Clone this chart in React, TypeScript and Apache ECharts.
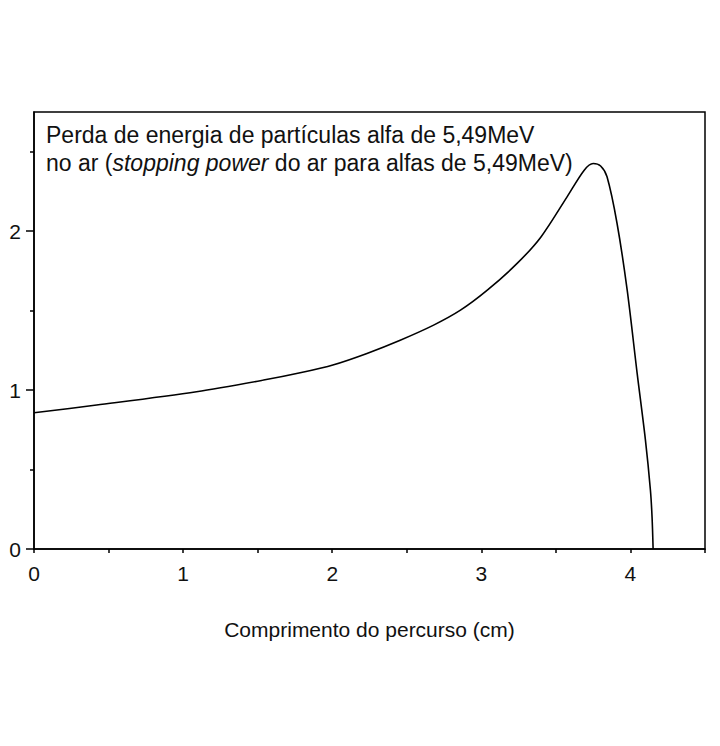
import React, { useEffect, useRef } from "react";
import * as echarts from "echarts";

const pathX = [0, 0.42, 1.09, 1.54, 1.785, 2.01, 2.233, 2.456, 2.68, 2.86, 3.04, 3.24, 3.40, 3.575, 3.69, 3.75, 3.80, 3.843, 3.91, 3.978, 4.045, 4.10, 4.134, 4.145, 4.152];
const stopPower = [0.857, 0.906, 0.99, 1.063, 1.109, 1.16, 1.231, 1.314, 1.409, 1.503, 1.629, 1.797, 1.964, 2.216, 2.384, 2.426, 2.41, 2.342, 2.05, 1.63, 1.105, 0.69, 0.37, 0.2, 0];
const xMajorLabels = [0, 1, 2, 3, 4];
const yMajorTicks = [0, 1, 2];
const yMinorTicks = [0.5, 1.5, 2.5];

const FONT = "'Liberation Sans', Arial, sans-serif";

export default function App() {
  const ref = useRef<HTMLDivElement>(null);
  useEffect(() => {
    if (!ref.current) return;
    const chart = echarts.init(ref.current, null, { renderer: "svg" });
    chart.setOption({
      animation: false,
      backgroundColor: "#fff",
      grid: {
        left: 34, top: 112, right: 15, bottom: 197,
        show: true, borderColor: "#000", borderWidth: 1.5, backgroundColor: "transparent",
      },
      xAxis: {
        type: "value", min: 0, max: 4.5, interval: 0.5,
        name: "Comprimento do percurso (cm)", nameLocation: "middle", nameGap: 70,
        nameTextStyle: { fontFamily: FONT, fontSize: 21, color: "#111" },
        axisLine: { show: true, onZero: false, lineStyle: { color: "#000", width: 1.5 } },
        axisTick: { show: true, length: 4, lineStyle: { color: "#000", width: 1.5 } },
        axisLabel: {
          fontFamily: FONT, fontSize: 21, color: "#111", margin: 14,
          formatter: (v: number) => (xMajorLabels.includes(v) ? String(v) : ""),
        },
        splitLine: { show: false },
      },
      yAxis: [
        {
          type: "value", min: 0, max: 2.75,
          axisLine: { show: true, onZero: false, lineStyle: { color: "#000", width: 1.5 } },
          axisTick: { show: true, length: 8, customValues: yMajorTicks, lineStyle: { color: "#000", width: 1.5 } },
          axisLabel: { fontFamily: FONT, fontSize: 21, color: "#111", margin: 13, customValues: yMajorTicks },
          splitLine: { show: false },
        },
        {
          type: "value", min: 0, max: 2.75, position: "left",
          axisLine: { show: false },
          axisTick: { show: true, length: 4, customValues: yMinorTicks, lineStyle: { color: "#000", width: 1.5 } },
          axisLabel: { show: false },
          splitLine: { show: false },
        },
      ],
      series: [
        {
          type: "line",
          data: pathX.map((x, i) => [x, stopPower[i]]),
          showSymbol: false,
          smooth: 0.3,
          lineStyle: { color: "#000", width: 1.6 },
          yAxisIndex: 0,
        },
      ],
      graphic: [
        {
          type: "text", left: 46, top: 121,
          style: {
            text: "Perda de energia de partículas alfa de 5,49MeV\nno ar ({i|stopping power} do ar para alfas de 5,49MeV)",
            fontFamily: FONT, fontSize: 23, fill: "#111", lineHeight: 28,
            rich: { i: { fontStyle: "italic", fontFamily: FONT, fontSize: 23, fill: "#111", lineHeight: 28 } },
          },
        },
      ],
    });
    return () => chart.dispose();
  }, []);
  return <div ref={ref} style={{ width: 720, height: 746, position: "absolute", left: 0, top: 0 }} />;
}
